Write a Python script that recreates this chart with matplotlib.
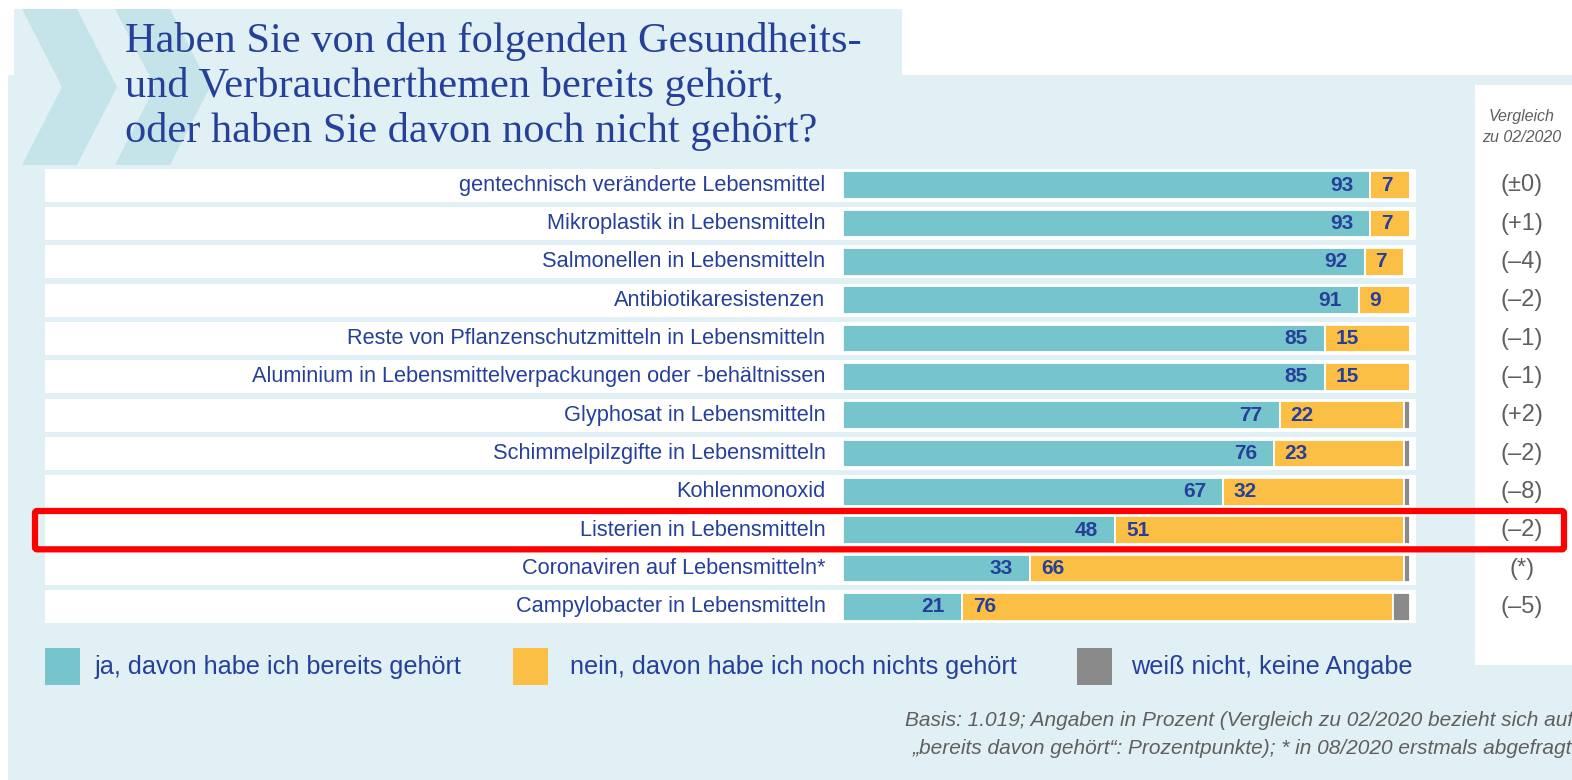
import matplotlib
matplotlib.use("Agg")
import matplotlib.pyplot as plt
from matplotlib.patches import Rectangle, Polygon, FancyBboxPatch

# data
topics = [
    "gentechnisch veränderte Lebensmittel",
    "Mikroplastik in Lebensmitteln",
    "Salmonellen in Lebensmitteln",
    "Antibiotikaresistenzen",
    "Reste von Pflanzenschutzmitteln in Lebensmitteln",
    "Aluminium in Lebensmittelverpackungen oder -behältnissen",
    "Glyphosat in Lebensmitteln",
    "Schimmelpilzgifte in Lebensmitteln",
    "Kohlenmonoxid",
    "Listerien in Lebensmitteln",
    "Coronaviren auf Lebensmitteln*",
    "Campylobacter in Lebensmitteln",
]
ja = [93, 93, 92, 91, 85, 85, 77, 76, 67, 48, 33, 21]
nein = [7, 7, 7, 9, 15, 15, 22, 23, 32, 51, 66, 76]
weiss_nicht = [0, 0, 0, 0, 0, 0, 1, 1, 1, 1, 1, 3]
vergleich = ["(±0)", "(+1)", "(–4)", "(–2)", "(–1)", "(–1)", "(+2)", "(–2)",
             "(–8)", "(–2)", "(*)", "(–5)"]
legend_labels = ["ja, davon habe ich bereits gehört",
                 "nein, davon habe ich noch nichts gehört",
                 "weiß nicht, keine Angabe"]
title_lines = ["Haben Sie von den folgenden Gesundheits-",
               "und Verbraucherthemen bereits gehört,",
               "oder haben Sie davon noch nicht gehört?"]
footnote = ["Basis: 1.019; Angaben in Prozent (Vergleich zu 02/2020 bezieht sich auf",
            "„bereits davon gehört“: Prozentpunkte); * in 08/2020 erstmals abgefragt"]
highlight = "Listerien in Lebensmitteln"

TEAL = "#76c5cc"
YELLOW = "#fbbf45"
GREY = "#8a8a8a"
NAVY = "#26409a"
BG = "#e1f0f4"
CHEV = "#c4e4ea"
TXTGREY = "#5f5f5f"
SANS = ["Liberation Sans", "DejaVu Sans"]

W, H = 1572, 780
fig = plt.figure(figsize=(W / 100, H / 100), dpi=100)
fig.patch.set_facecolor("white")

# background in pixel coordinates
bg = fig.add_axes([0, 0, 1, 1])
bg.set_xlim(0, W)
bg.set_ylim(H, 0)
bg.axis("off")
bg.add_patch(Rectangle((8, 75), W - 8, H - 75, color=BG, lw=0))
bg.add_patch(Rectangle((14, 9), 888, 80, color=BG, lw=0))
for x0 in [22, 115]:
    bg.add_patch(Polygon([(x0, 9), (x0 + 55, 9), (x0 + 95, 87), (x0 + 55, 165),
                          (x0, 165), (x0 + 40, 87)], closed=True, color=CHEV, lw=0))

for line, yb in zip(title_lines, [52, 97, 142]):
    bg.text(125, yb, line, family="Liberation Serif", fontsize=30.5, color=NAVY,
            va="baseline", ha="left")

# right comparison panel
bg.add_patch(Rectangle((1475, 85), W - 1475, 580, color="white", lw=0))
bg.text(1522, 116, "Vergleich", fontsize=11.5, style="italic", color=TXTGREY,
        ha="center", va="center", family=SANS)
bg.text(1522, 138, "zu 02/2020", fontsize=11.5, style="italic", color=TXTGREY,
        ha="center", va="center", family=SANS)

# legend
for (x, tx, c, lab) in zip([45, 513, 1077], [95, 570, 1131], [TEAL, YELLOW, GREY], legend_labels):
    bg.add_patch(Rectangle((x, 648), 35, 37, color=c, lw=0))
    bg.text(tx, 667, lab, fontsize=18.2, color=NAVY, ha="left", va="center", family=SANS)

# footnote
bg.text(905, 720, footnote[0], fontsize=15, style="italic", color=TXTGREY,
        ha="left", va="center", family=SANS)
bg.text(913, 748, footnote[1], fontsize=15, style="italic", color=TXTGREY,
        ha="left", va="center", family=SANS)

# bar axes: 0..100 maps to px 843..1410
px_per = (1410 - 843) / 100
x_lo = (45 - 843) / px_per
x_hi = (1416 - 843) / px_per
row_top, row_bot = 166, 626
ax = fig.add_axes([45 / W, 1 - row_bot / H, (1416 - 45) / W, (row_bot - row_top) / H])
ax.set_xlim(x_lo, x_hi)
n = len(topics)
ax.set_ylim(n - 0.5, -0.5)
ax.axis("off")
ax.patch.set_alpha(0)

ys = list(range(n))
ax.barh(ys, [x_hi - x_lo] * n, left=x_lo, height=0.86, color="white", lw=0)
ax.barh(ys, ja, left=0, height=0.72, color=TEAL, edgecolor="white", lw=1.3)
ax.barh(ys, nein, left=ja, height=0.72, color=YELLOW, edgecolor="white", lw=1.3)
left_wn = [a + b for a, b in zip(ja, nein)]
ax.barh(ys, weiss_nicht, left=left_wn, height=0.72, color=GREY, edgecolor="white", lw=1.3)

for i, t in enumerate(topics):
    ax.text(-3.1, i, t, ha="right", va="center", fontsize=15.7, color=NAVY, family=SANS)
    ax.text(ja[i] - 3.0, i, str(ja[i]), ha="right", va="center", fontsize=15,
            fontweight="bold", color=NAVY, family=SANS)
    ax.text(ja[i] + 1.9, i, str(nein[i]), ha="left", va="center", fontsize=15,
            fontweight="bold", color=NAVY, family=SANS)
    ax.text((1522 - 843) / px_per, i, vergleich[i], ha="center", va="center",
            fontsize=17, color=TXTGREY, family=SANS)

# red highlight around one row
hi = topics.index(highlight)
x0 = (35 - 843) / px_per
x1 = (1564 - 843) / px_per
ax.add_patch(FancyBboxPatch((x0, hi - 0.5), x1 - x0, 1.0,
                            boxstyle="round,pad=0,rounding_size=0.4",
                            fill=False, edgecolor="#ff0000", lw=4.5, clip_on=False,
                            mutation_aspect=0.15))

fig.savefig("out.png", dpi=100, facecolor=fig.get_facecolor())
